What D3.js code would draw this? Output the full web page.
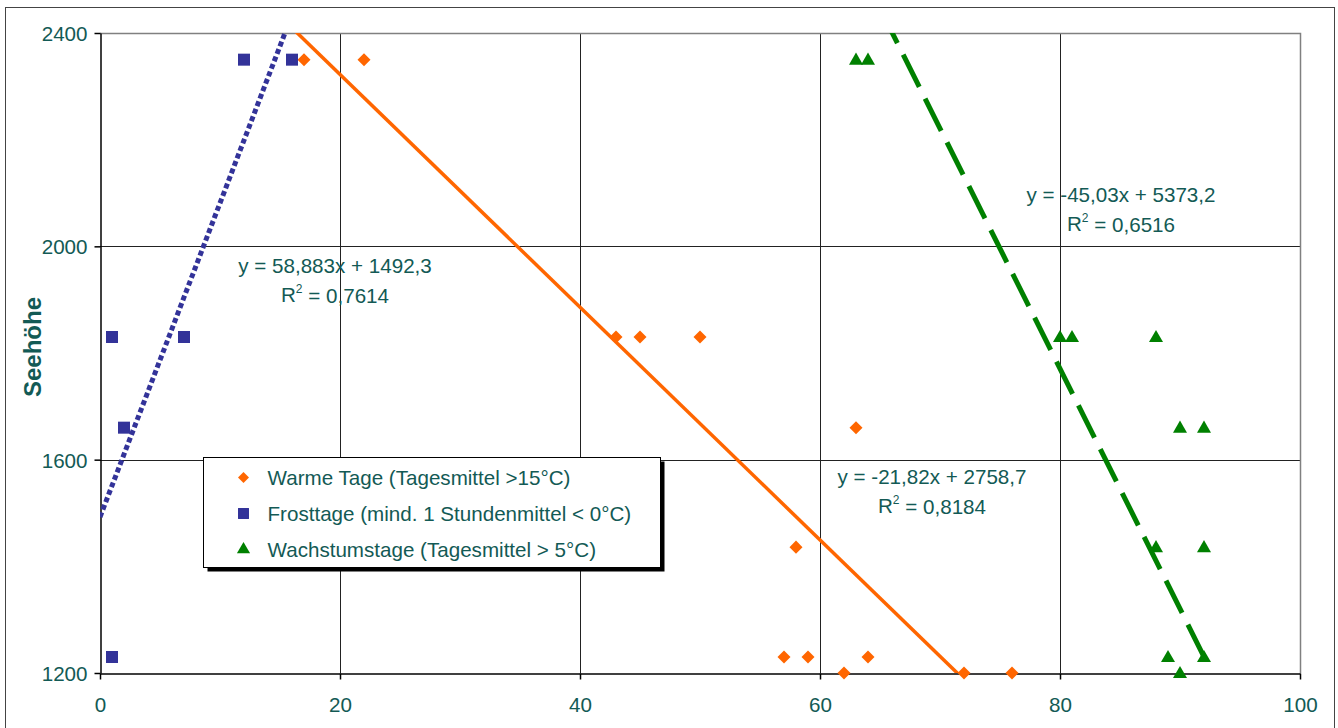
<!DOCTYPE html>
<html>
<head>
<meta charset="utf-8">
<script src="https://cdn.jsdelivr.net/npm/d3@7"></script>
<style>
  body { margin: 0; background: #fff; }
  text { font-family: Arial, "Liberation Sans", sans-serif; fill: #135a55; }
</style>
</head>
<body>
<div class="view"></div>
<script>
// Seehöhe gegen Anzahl Tage
var warmX = [17, 22, 43, 45, 50, 63, 58, 57, 59, 64, 62, 72, 76];
var warmY = [2350, 2350, 1830, 1830, 1830, 1660, 1436, 1230, 1230, 1230, 1200, 1200, 1200];

var frostX = [12, 16, 1, 7, 2, 1];
var frostY = [2350, 2350, 1830, 1830, 1660, 1230];

var growX = [63, 64, 80, 81, 88, 90, 92, 88, 92, 89, 92, 90];
var growY = [2350, 2350, 1830, 1830, 1830, 1660, 1660, 1436, 1436, 1230, 1230, 1200];

// trendlines: slope, intercept, x-range
var warmTrend = [-21.82, 2758.7, 0, 100];
var frostTrend = [58.883, 1492.3, 0, 16];
var growTrend = [-45.03, 5373.2, 60, 92];

var seriesNames = ["Warme Tage (Tagesmittel >15°C)", "Frosttage (mind. 1 Stundenmittel < 0°C)", "Wachstumstage (Tagesmittel > 5°C)"];
var eqLabels = [
  ["y = -21,82x + 2758,7", "0,8184"],
  ["y = 58,883x + 1492,3", "0,7614"],
  ["y = -45,03x + 5373,2", "0,6516"]
];
var xTicks = [0, 20, 40, 60, 80, 100];
var yTicks = [1200, 1600, 2000, 2400];

var margin = { top: 33, right: 38, bottom: 55, left: 100 };
var width = 1200;
var height = 640;
var fs = 20.6;

var root = d3.select('.view')
.append('svg')
.attr('width', 1338)
.attr('height', 728);

// chart frame
root.append("rect")
.attr("x", 5.5)
.attr("y", 7.5)
.attr("width", 1329)
.attr("height", 740)
.attr("fill", "none")
.attr("stroke", "#444")
.attr("stroke-width", 1);

var svg = root.append('g')
.attr('transform', 'translate(' + margin.left + ',' + margin.top + ")");

var x = d3.scaleLinear()
.domain([0, 100])
.range([0, width]);

var y = d3.scaleLinear()
.domain([1200, 2400])
.range([height, 0]);

svg.append("defs").append("clipPath")
.attr("id", "plotclip")
.append("rect")
.attr("width", width)
.attr("height", height);

// gridlines
svg.selectAll(".vgrid")
.data([20, 40, 60, 80])
.enter()
.append("line")
.attr("x1", function(d) { return Math.round(x(d)) + 0.5; })
.attr("x2", function(d) { return Math.round(x(d)) + 0.5; })
.attr("y1", 0)
.attr("y2", height)
.attr("stroke", "#222")
.attr("stroke-width", 1);

svg.selectAll(".hgrid")
.data([1600, 2000])
.enter()
.append("line")
.attr("y1", function(d) { return Math.round(y(d)) + 0.5; })
.attr("y2", function(d) { return Math.round(y(d)) + 0.5; })
.attr("x1", 0)
.attr("x2", width)
.attr("stroke", "#222")
.attr("stroke-width", 1);

// top and right border of plot
svg.append("path")
.attr("d", "M0,0.5H" + (width + 0.5) + "V" + height)
.attr("fill", "none")
.attr("stroke", "#808080")
.attr("stroke-width", 1.5);

// axes
var xAxis = svg.append("g")
.attr("transform", "translate(0," + (height + 0.5) + ")")
.call(d3.axisBottom(x).tickValues(xTicks).tickSize(6).tickSizeOuter(0));

var yAxis = svg.append("g")
.attr("transform", "translate(0.5,0)")
.call(d3.axisLeft(y).tickValues(yTicks).tickFormat(d3.format("d")).tickSize(6).tickSizeOuter(0));

[xAxis, yAxis].forEach(function(a) {
  a.select(".domain").attr("stroke", "#000").attr("stroke-width", 1.5);
  a.selectAll(".tick line").attr("stroke", "#000").attr("stroke-width", 1.5);
  a.selectAll(".tick text")
  .attr("font-size", fs)
  .attr("font-family", "Arial, 'Liberation Sans', sans-serif")
  .attr("fill", "#135a55");
});
xAxis.selectAll(".tick text").attr("y", 24);
yAxis.selectAll(".tick text").attr("x", -13).attr("dy", "0.36em");

// trendlines
function trend(t) {
  return [[t[2], t[0] * t[2] + t[1]], [t[3], t[0] * t[3] + t[1]]];
}
var line = d3.line()
.x(function(d) { return x(d[0]); })
.y(function(d) { return y(d[1]); });

var lines = svg.append("g").attr("clip-path", "url(#plotclip)");

lines.append("path")
.datum(trend(frostTrend))
.attr("fill", "none")
.attr("stroke", "#333399")
.attr("stroke-width", 5)
.attr("stroke-dasharray", "5,3")
.attr("d", line);

lines.append("path")
.datum(trend(warmTrend))
.attr("fill", "none")
.attr("stroke", "#ff6600")
.attr("stroke-width", 3.5)
.attr("d", line);

lines.append("path")
.datum(trend(growTrend).reverse())
.attr("fill", "none")
.attr("stroke", "#008000")
.attr("stroke-width", 5)
.attr("stroke-dasharray", "36,13")
.attr("d", line);

// markers
var diamond = d3.symbol().type(d3.symbolSquare).size(85);
var square = d3.symbol().type(d3.symbolSquare).size(144);
var triangle = d3.symbol().type(d3.symbolTriangle).size(85);

svg.selectAll(".warm")
.data(warmX)
.enter()
.append("path")
.attr("class", "warm")
.attr("d", diamond)
.attr("fill", "#ff6600")
.attr("transform", function(d, i) { return "translate(" + x(d) + "," + y(warmY[i]) + ") rotate(45)"; });

svg.selectAll(".frost")
.data(frostX)
.enter()
.append("path")
.attr("class", "frost")
.attr("d", square)
.attr("fill", "#333399")
.attr("transform", function(d, i) { return "translate(" + x(d) + "," + y(frostY[i]) + ")"; });

svg.selectAll(".grow")
.data(growX)
.enter()
.append("path")
.attr("class", "grow")
.attr("d", triangle)
.attr("fill", "#008000")
.attr("transform", function(d, i) { return "translate(" + x(d) + "," + (y(growY[i]) + 1) + ")"; });

// equation labels, centred
var eqPos = [[932, 477], [335, 266], [1121, 195]];
eqLabels.forEach(function(l, i) {
  var g = root.append("g")
  .attr("transform", "translate(" + eqPos[i][0] + "," + eqPos[i][1] + ")");
  g.append("text")
  .attr("text-anchor", "middle")
  .attr("font-size", fs)
  .attr("dy", "0.36em")
  .text(l[0]);
  var r = g.append("text")
  .attr("text-anchor", "middle")
  .attr("font-size", fs)
  .attr("y", 29)
  .attr("dy", "0.36em");
  r.append("tspan").text("R");
  r.append("tspan").attr("font-size", 12).attr("dy", "-0.75em").text("2");
  r.append("tspan").attr("dy", "0.45em").text(" = " + l[1]);
});

// legend
var legend = root.append("g")
.attr("transform", "translate(203.5,457.5)");

legend.append("rect")
.attr("x", 4)
.attr("y", 4)
.attr("width", 457)
.attr("height", 110)
.attr("fill", "#000");

legend.append("rect")
.attr("width", 457)
.attr("height", 110)
.attr("fill", "#fff")
.attr("stroke", "#000")
.attr("stroke-width", 1);

var legendMarks = [
  { d: d3.symbol().type(d3.symbolSquare).size(60)(), fill: "#ff6600", rot: 45 },
  { d: d3.symbol().type(d3.symbolSquare).size(120)(), fill: "#333399", rot: 0 },
  { d: d3.symbol().type(d3.symbolTriangle).size(75)(), fill: "#008000", rot: 0 }
];

seriesNames.forEach(function(name, i) {
  var yy = 20 + i * 36;
  legend.append("path")
  .attr("d", legendMarks[i].d)
  .attr("fill", legendMarks[i].fill)
  .attr("transform", "translate(40," + yy + ") rotate(" + legendMarks[i].rot + ")");
  legend.append("text")
  .attr("x", 64)
  .attr("y", yy)
  .attr("dy", "0.36em")
  .attr("font-size", fs)
  .text(name);
});

// y axis title
root.append("text")
.attr("transform", "translate(41,347) rotate(-90)")
.attr("text-anchor", "middle")
.attr("font-size", 24)
.attr("font-weight", "bold")
.text("Seehöhe");
</script>
</body>
</html>
